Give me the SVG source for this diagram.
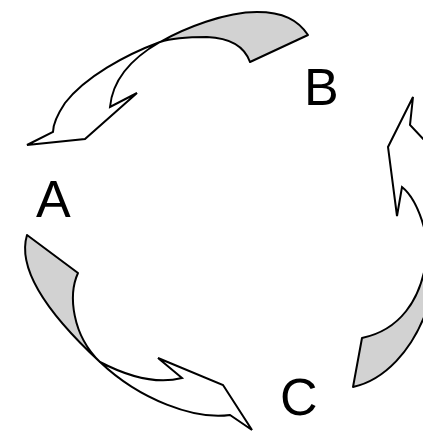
<svg xmlns="http://www.w3.org/2000/svg" width="423" height="433" viewBox="0 0 423 433">
<style>
.lbl{font-family:"Liberation Sans",Arial,sans-serif;font-size:52px;fill:#000}
.back{fill:#d2d2d2;stroke:#000;stroke-width:2;stroke-linejoin:round}
.front{fill:#fff;stroke:#000;stroke-width:2;stroke-linejoin:miter}
</style>
<rect width="423" height="433" fill="#fff"/>
<g id="connectors">
  <g id="arrow-B-A">
    <path class="back" d="M160,42 C185,28 225,12 257,12 C283,12 298,20 308,35 L250,62 C245,48 232,38 207,37 C190,37 172,38 160,42 Z"/>
    <path class="front" d="M160,42 C125,55 85,77 65,103 C57,115 53,125 53,132 L27,145 L85,139 L137,93 L110,107 C112,85 125,62 160,42 Z"/>
  </g>
  <g id="arrow-C-B">
    <path class="back" d="M426,262 C420,300 400,330 362,338 L353,387 C385,380 412,350 426,312 Z"/>
    <path class="front" d="M413,97 L388,147 L397,216 L402,187 C412,195 420,210 426,235 L426,142 L410,125 Z"/>
  </g>
  <g id="arrow-A-C">
    <path class="back" d="M27,235 L78,273 C68,295 72,335 100,362 C60,325 15,275 27,235 Z"/>
    <path class="front" d="M100,362 C125,375 155,385 182,378 L158,358 L223,385 L252,430 L230,415 C195,420 140,400 100,362 Z"/>
  </g>
</g>
<g id="node-A"><text class="lbl" x="36" y="217">A</text></g>
<g id="node-B"><text class="lbl" x="304" y="105">B</text></g>
<g id="node-C"><text class="lbl" x="280" y="415">C</text></g>
</svg>
